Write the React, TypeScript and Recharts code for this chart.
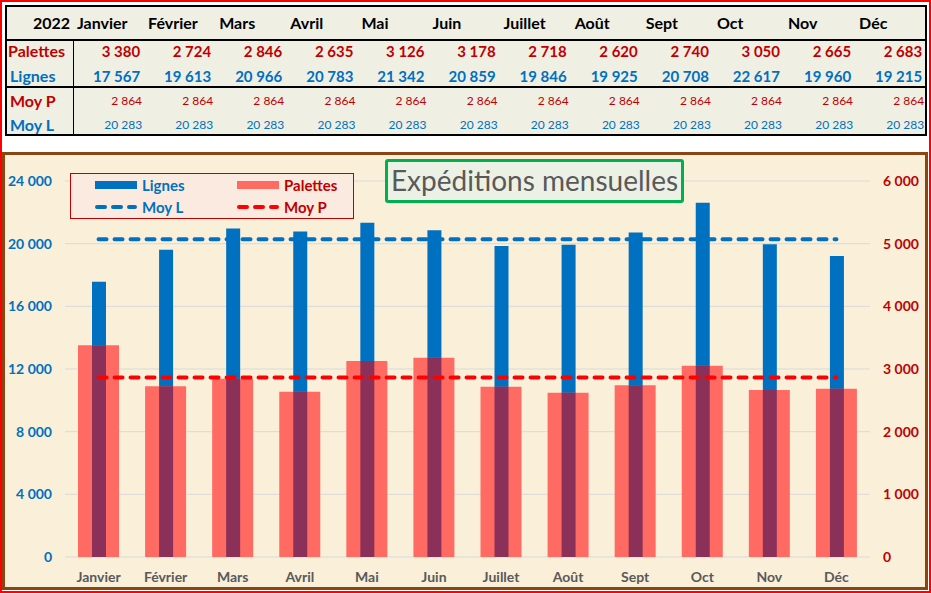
import React from 'react';
import { ComposedChart, Bar, Line, XAxis, YAxis, CartesianGrid } from 'recharts';

const months = ['Janvier', 'Février', 'Mars', 'Avril', 'Mai', 'Juin', 'Juillet', 'Août', 'Sept', 'Oct', 'Nov', 'Déc'];
const palettes = [3380, 2724, 2846, 2635, 3126, 3178, 2718, 2620, 2740, 3050, 2665, 2683];
const lignes = [17567, 19613, 20966, 20783, 21342, 20859, 19846, 19925, 20708, 22617, 19960, 19215];
const moyP = 2864;
const moyL = 20283;
const leftTicks = [0, 4000, 8000, 12000, 16000, 20000, 24000];
const rightTicks = [0, 1000, 2000, 3000, 4000, 5000, 6000];
const tableYear = '2022';
const chartTitle = 'Expéditions mensuelles';
const rowLabels = ['Palettes', 'Lignes', 'Moy P', 'Moy L'];

const data = months.map((m, i) => ({ month: m, palettes: palettes[i], lignes: lignes[i], moyP, moyL }));

const BLUE = '#0070C0';
const DARKRED = '#C00000';
const SALMON = '#FF6B63';
const PURPLE = '#8B3159';
const BROWN = '#8B4513';
const FONT = 'Lato, "Open Sans", sans-serif';

const fmt = (n: number) => String(n).replace(/\B(?=(\d{3})+(?!\d))/g, ' ');

// table geometry (relative to table inner box)
const COL0 = 66; // label column width
const COLW = 71.1;
const cellStyle = (left: number, top: number, width: number, align: 'left' | 'right', color: string, size: number, weight: number): React.CSSProperties => ({
  position: 'absolute',
  left,
  top,
  width,
  height: 22,
  lineHeight: '22px',
  textAlign: align,
  color,
  fontSize: size,
  fontWeight: weight,
  whiteSpace: 'nowrap',
});

function DataTable() {
  const rowCenters = [44, 69, 94, 118];
  const rows: { vals: number[]; color: string; size: number; weight: number; pad: number }[] = [
    { vals: palettes, color: DARKRED, size: 15, weight: 700, pad: 4 },
    { vals: lignes, color: BLUE, size: 15, weight: 700, pad: 4 },
    { vals: months.map(() => moyP), color: DARKRED, size: 12, weight: 400, pad: 2 },
    { vals: months.map(() => moyL), color: BLUE, size: 12, weight: 400, pad: 2 },
  ];
  const labelColors = [DARKRED, BLUE, DARKRED, BLUE];
  return (
    <div style={{ position: 'absolute', left: 5, top: 5, width: 922, height: 131, border: '2px solid #000', boxSizing: 'border-box', background: '#EFEFE4', fontFamily: FONT }}>
      <div style={cellStyle(0, 5, 63, 'right', '#000', 16, 700)}>{tableYear}</div>
      {months.map((m, i) => (
        <div key={m} style={cellStyle(COL0 + COLW * i + 4, 5, 70, 'left', '#000', 16, 700)}>{m}</div>
      ))}
      <div style={{ position: 'absolute', left: 0, right: 0, top: 32, height: 1.5, background: '#000' }} />
      <div style={{ position: 'absolute', left: 0, right: 0, top: 79, height: 1.5, background: '#000' }} />
      <div style={{ position: 'absolute', left: COL0, top: 32, width: 1.2, bottom: 0, background: '#000' }} />
      {rowLabels.map((l, r) => (
        <div key={l} style={cellStyle(r === 0 ? 1 : 3, rowCenters[r] - 11, 62, 'left', labelColors[r], 16, 700)}>{l}</div>
      ))}
      {rows.map((row, r) =>
        row.vals.map((v, i) => (
          <div key={r + '-' + i} style={cellStyle(COL0 + COLW * i, rowCenters[r] - 11, COLW - row.pad, 'right', row.color, row.size, row.weight)}>{fmt(v)}</div>
        ))
      )}
    </div>
  );
}

function LegendBox() {
  const item = (left: number, top: number, kind: 'bar' | 'dash', color: string, label: string, textColor: string) => (
    <div style={{ position: 'absolute', left, top, height: 22, display: 'flex', alignItems: 'center' }}>
      <svg width={42} height={12} style={{ display: 'block' }}>
        {kind === 'bar' ? (
          <rect x={0} y={2} width={42} height={8} fill={color} />
        ) : (
          <line x1={2} y1={6} x2={40} y2={6} stroke={color} strokeWidth={4} strokeDasharray="8 8" strokeLinecap="round" />
        )}
      </svg>
      <span style={{ marginLeft: 5, color: textColor, fontSize: 15, fontWeight: 700, fontFamily: FONT }}>{label}</span>
    </div>
  );
  return (
    <div style={{ position: 'absolute', left: 65, top: 18, width: 284, height: 46, border: '1px solid ' + DARKRED, boxSizing: 'border-box', background: '#FBEADF' }}>
      {item(24, 0, 'bar', BLUE, 'Lignes', BLUE)}
      {item(166, 0, 'bar', SALMON, 'Palettes', DARKRED)}
      {item(24, 22, 'dash', BLUE, 'Moy L', BLUE)}
      {item(166, 22, 'dash', '#FF0000', 'Moy P', DARKRED)}
    </div>
  );
}

export default function App() {
  return (
    <div style={{ position: 'absolute', left: 0, top: 0, width: 931, height: 593, border: '2px solid #FF0000', boxSizing: 'border-box', background: '#fff', fontFamily: FONT }}>
      <div style={{ position: 'absolute', left: -2, top: -2, width: 931, height: 593 }}>
        <DataTable />
        <div style={{ position: 'absolute', left: 2, top: 152, width: 926, height: 438, border: '3px solid ' + BROWN, boxSizing: 'border-box', background: '#FAEFD9' }}>
          <ComposedChart width={920} height={432} data={data} margin={{ top: 26, right: 0, left: 0, bottom: 0 }} style={{ fontFamily: FONT }}>
            <CartesianGrid vertical={false} stroke="#D9D9D9" xAxisId="main" yAxisId="left" />
            <XAxis xAxisId="main" dataKey="month" axisLine={false} tickLine={false} tickSize={0} tickMargin={15} height={30} interval={0}
              tick={{ fill: '#595959', fontSize: 14, fontWeight: 700, fontFamily: FONT }} />
            <XAxis xAxisId="zlig" dataKey="month" hide height={0} />
            <XAxis xAxisId="zovl" dataKey="month" hide height={0} />
            <YAxis yAxisId="left" orientation="left" domain={[0, 24000]} ticks={leftTicks} width={60} axisLine={false} tickLine={false}
              tickSize={0} tickMargin={13} tickFormatter={fmt} interval={0}
              tick={{ fill: BLUE, fontSize: 14, fontWeight: 700, fontFamily: FONT }} />
            <YAxis yAxisId="right" orientation="right" domain={[0, 6000]} ticks={rightTicks} width={55} axisLine={false} tickLine={false}
              tickSize={0} tickMargin={13} tickFormatter={fmt} interval={0}
              tick={{ fill: DARKRED, fontSize: 14, fontWeight: 700, fontFamily: FONT }} />
            <Bar xAxisId="zlig" yAxisId="left" dataKey="lignes" fill={BLUE} barSize={14} isAnimationActive={false} />
            <Bar xAxisId="main" yAxisId="right" dataKey="palettes" fill={SALMON} barSize={41} isAnimationActive={false} />
            <Bar xAxisId="zovl" yAxisId="right" dataKey="palettes" fill={PURPLE} barSize={14} isAnimationActive={false} />
            <Line xAxisId="main" yAxisId="left" type="linear" dataKey="moyL" stroke={BLUE} strokeWidth={4} strokeDasharray="8 8" strokeLinecap="round" dot={false} activeDot={false} isAnimationActive={false} />
            <Line xAxisId="main" yAxisId="right" type="linear" dataKey="moyP" stroke="#FF0000" strokeWidth={4} strokeDasharray="8 8" strokeLinecap="round" dot={false} activeDot={false} isAnimationActive={false} />
          </ComposedChart>
          <LegendBox />
          <div style={{ position: 'absolute', left: 380, top: 4, width: 299, height: 44, border: '3px solid #00B050', borderRadius: 3, boxSizing: 'border-box', background: '#EDF1E5', color: '#595959', fontSize: 28, lineHeight: '37px', textAlign: 'center', fontFamily: FONT, whiteSpace: 'nowrap' }}>
            {chartTitle}
          </div>
        </div>
      </div>
    </div>
  );
}
